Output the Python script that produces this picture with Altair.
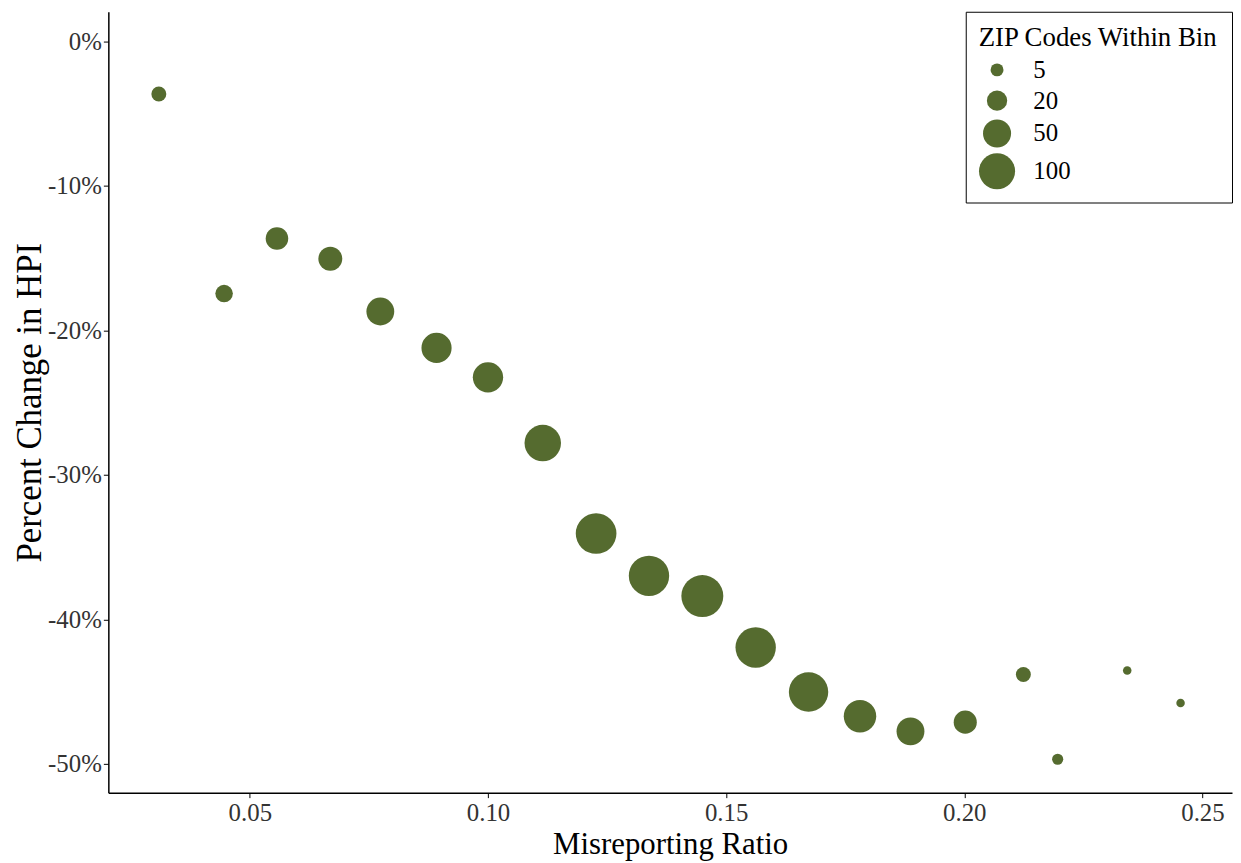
import altair as alt
import pandas as pd

ratio = [0.0309, 0.0446, 0.0557, 0.0669, 0.0774, 0.0892, 0.1000, 0.1115, 0.1227, 0.1338,
         0.1450, 0.1562, 0.1673, 0.1781, 0.1887, 0.2002, 0.2124, 0.2196, 0.2342, 0.2454]
pct_change = [-3.63, -17.45, -13.64, -15.04, -18.69, -21.21, -23.25, -27.8, -34.06, -36.99,
              -38.39, -41.95, -45.03, -46.71, -47.76, -47.12, -43.82, -49.69, -43.54, -45.8]
zip_count = [8, 13, 27, 32, 49, 61, 62, 103, 139, 136, 151, 136, 127, 75, 49, 29, 8, 3, 1, 1]

x_ticks = [0.05, 0.10, 0.15, 0.20, 0.25]
y_ticks = [0, -10, -20, -30, -40, -50]
legend_values = [5, 20, 50, 100]

df = pd.DataFrame({"ratio": ratio, "pct": pct_change, "count": zip_count})

FONT = "Liberation Serif"
GREEN = "#556B2F"

chart = alt.Chart(df).mark_circle(color=GREEN, opacity=1, strokeWidth=0).encode(
    x=alt.X("ratio:Q",
            scale=alt.Scale(domain=[0.0203, 0.2562], nice=False, zero=False),
            axis=alt.Axis(title="Misreporting Ratio", values=x_ticks, format=".2f",
                          labelFontSize=25, titleFontSize=31, titlePadding=4,
                          labelPadding=3)),
    y=alt.Y("pct:Q",
            scale=alt.Scale(domain=[-52.0, 2.06], nice=False, zero=False),
            axis=alt.Axis(title="Percent Change in HPI", values=y_ticks,
                          labelExpr="datum.value + '%'",
                          labelFontSize=25, titleFontSize=35, titlePadding=0,
                          labelPadding=2)),
    size=alt.Size("count:Q",
                  scale=alt.Scale(type="pow", exponent=0.75, domain=[5, 100],
                                  range=[169, 1318], zero=False, nice=False),
                  legend=alt.Legend(title="ZIP Codes Within Bin", values=legend_values,
                                    orient="top-right", offset=0,
                                    strokeColor="black", fillColor="white",
                                    padding=13, titleFontSize=27, labelFontSize=25,
                                    titleLimit=500, labelLimit=200,
                                    labelOffset=18, rowPadding=5, titlePadding=6,
                                    symbolFillColor=GREEN, symbolStrokeWidth=0,
                                    symbolOpacity=1, symbolType="circle")),
).properties(
    width=1131, height=786,
    padding={"left": 4, "top": 0, "right": 0, "bottom": 0},
).configure_view(stroke=None).configure_axis(
    grid=False, domainColor="black", domainWidth=1.5, tickColor="black",
    tickWidth=1, tickSize=5, labelFont=FONT, titleFont=FONT,
    labelColor="#333333", titleColor="black", titleFontWeight="normal",
).configure_legend(
    titleFont=FONT, labelFont=FONT, titleFontWeight="normal",
    titleColor="black", labelColor="black",
)

chart.save("out.html", embed_options={"renderer": "svg", "actions": False})
